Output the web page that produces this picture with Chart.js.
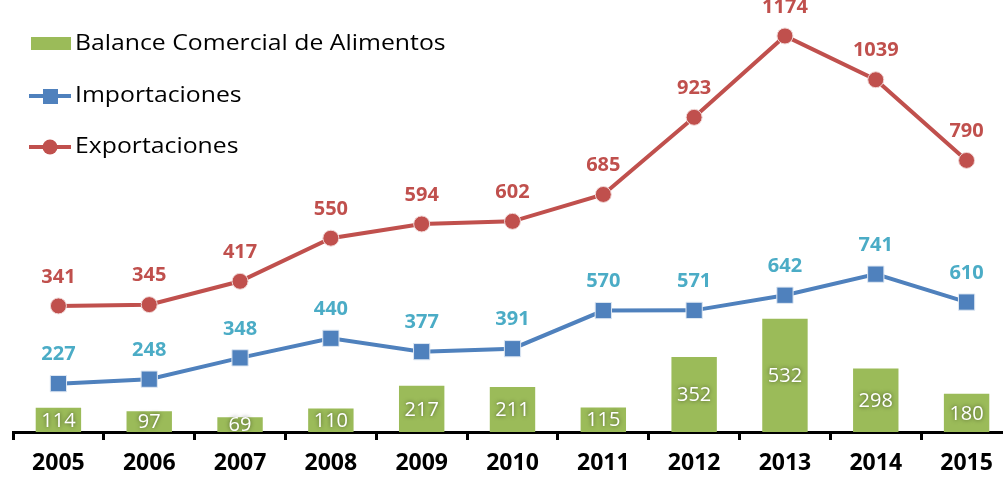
<!DOCTYPE html>
<html>
<head>
<meta charset="utf-8">
<script src="https://cdn.jsdelivr.net/npm/chart.js@4"></script>
<style>
  html, body { margin: 0; padding: 0; background: #fff; overflow: hidden; }
  canvas { display: block; }
</style>
</head>
<body>
<canvas id="grafico" width="1013" height="478"></canvas>
<script>
const anios = ["2005", "2006", "2007", "2008", "2009", "2010", "2011", "2012", "2013", "2014", "2015"];
const balance = [114, 97, 69, 110, 217, 211, 115, 352, 532, 298, 180];
const importaciones = [227, 248, 348, 440, 377, 391, 570, 571, 642, 741, 610];
const exportaciones = [341, 345, 417, 550, 594, 602, 685, 923, 1174, 1039, 790];

const verde = "#9BBB59";
const azul = "#4F81BD";
const rojo = "#C0504D";
const fuente = "'Open Sans', 'DejaVu Sans', sans-serif";

// etiquetas de datos
const etiquetas = {
  id: "etiquetas",
  afterDatasetsDraw(chart) {
    const ctx = chart.ctx;
    ctx.save();
    ctx.textAlign = "center";
    ctx.textBaseline = "middle";
    chart.data.datasets.forEach(function (ds, i) {
      const meta = chart.getDatasetMeta(i);
      meta.data.forEach(function (el, j) {
        const valor = ds.data[j];
        if (ds.type === "bar") {
          ctx.font = "20px " + fuente;
          ctx.fillStyle = "#fff";
          ctx.shadowColor = "rgba(0,0,0,0.55)";
          ctx.shadowBlur = 4;
          ctx.fillText(valor, el.x, (el.y + el.base) / 2 + 1);
          ctx.shadowBlur = 0;
          ctx.shadowColor = "transparent";
        } else {
          ctx.font = "bold 20px " + fuente;
          ctx.fillStyle = ds.labelColor;
          ctx.fillText(valor, el.x, el.y - 29);
        }
      });
    });
    ctx.restore();
  }
};

// leyenda dibujada a mano arriba a la izquierda
function textoAncho(ctx, txt, x, y) {
  ctx.save();
  ctx.translate(x, y);
  ctx.scale(1.18, 1);
  ctx.fillText(txt, 0, 0);
  ctx.restore();
}

const leyenda = {
  id: "leyenda",
  afterDraw(chart) {
    const ctx = chart.ctx;
    ctx.save();
    ctx.font = "21px " + fuente;
    ctx.textBaseline = "middle";
    ctx.textAlign = "left";

    ctx.fillStyle = verde;
    ctx.fillRect(31, 37, 40, 13);
    ctx.fillStyle = "#000";
    textoAncho(ctx, "Balance Comercial de Alimentos", 75, 44);

    ctx.lineWidth = 4;
    ctx.strokeStyle = azul;
    ctx.beginPath(); ctx.moveTo(29, 96); ctx.lineTo(71, 96); ctx.stroke();
    ctx.fillStyle = azul;
    ctx.fillRect(43, 89, 15, 15);
    ctx.fillStyle = "#000";
    textoAncho(ctx, "Importaciones", 75, 96);

    ctx.strokeStyle = rojo;
    ctx.beginPath(); ctx.moveTo(29, 147); ctx.lineTo(71, 147); ctx.stroke();
    ctx.fillStyle = rojo;
    ctx.beginPath(); ctx.arc(50, 147, 7.5, 0, Math.PI * 2); ctx.fill();
    ctx.fillStyle = "#000";
    textoAncho(ctx, "Exportaciones", 75, 147);
    ctx.restore();
  }
};

new Chart(document.getElementById("grafico"), {
  data: {
    labels: anios,
    datasets: [
      {
        type: "bar",
        label: "Balance Comercial de Alimentos",
        data: balance,
        backgroundColor: verde,
        barPercentage: 0.5,
        categoryPercentage: 1,
        yAxisID: "y",
        order: 3
      },
      {
        type: "line",
        label: "Importaciones",
        data: importaciones,
        borderColor: azul,
        backgroundColor: azul,
        borderWidth: 4,
        pointStyle: "rect",
        pointRadius: 11.5,
        pointBorderColor: "#dfe8f3",
        pointBorderWidth: 1,
        labelColor: "#4BACC6",
        yAxisID: "y",
        order: 2
      },
      {
        type: "line",
        label: "Exportaciones",
        data: exportaciones,
        borderColor: rojo,
        backgroundColor: rojo,
        borderWidth: 4,
        pointStyle: "circle",
        pointRadius: 8,
        pointBorderColor: "#f0d8d7",
        pointBorderWidth: 1,
        labelColor: rojo,
        yAxisID: "y2",
        order: 1
      }
    ]
  },
  options: {
    responsive: false,
    animation: false,
    layout: { autoPadding: false, padding: { left: 13, right: 1, top: 0, bottom: 0 } },
    plugins: {
      legend: { display: false },
      tooltip: { enabled: false }
    },
    scales: {
      x: {
        offset: true,
        grid: {
          offset: true,
          drawOnChartArea: false,
          drawTicks: true,
          tickLength: 8,
          color: "#000",
          lineWidth: 3
        },
        border: { display: true, color: "#000", width: 3 },
        ticks: {
          color: "#000",
          font: { family: fuente, size: 23, weight: "bold" },
          padding: 10,
          maxRotation: 0
        },
        afterFit: function (scale) { scale.height = 46; }
      },
      y: { display: false, min: 0, max: 2028 },
      y2: { display: false, min: -48, max: 1285 }
    }
  },
  plugins: [etiquetas, leyenda]
});
</script>
</body>
</html>
